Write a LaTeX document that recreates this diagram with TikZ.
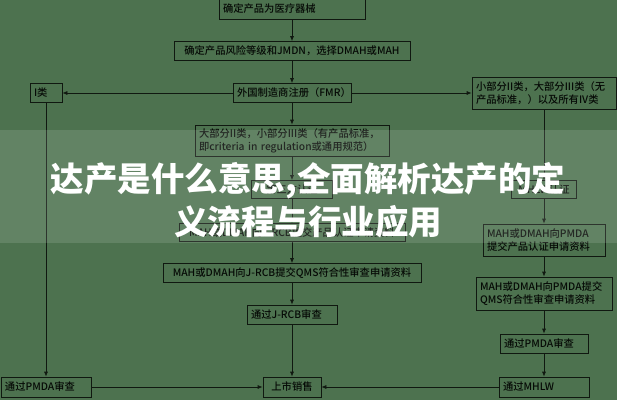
\documentclass[tikz,border=0pt]{standalone}
\usepackage{fontspec}
\newfontfamily\cjk{Noto Sans CJK SC}[UprightFont=* Medium]
\newfontfamily\cjkheavy{Noto Sans CJK SC}[UprightFont=* Black]
\usepackage{tikz}
\usetikzlibrary{arrows.meta}
\pgfdeclarelayer{background}
\pgfdeclarelayer{foreground}
\pgfsetlayers{background,main,foreground}
\definecolor{bgc}{RGB}{77,114,79}
\definecolor{edgec}{RGB}{16,24,16}
\definecolor{inkc}{RGB}{6,10,6}

\begin{document}
\begin{tikzpicture}[
						x=1pt, y=-1pt,
						>={Latex[length=5pt,width=4pt]},
						stepbox/.style={draw=edgec, line width=0.7pt, inner xsep=4pt, inner ysep=0pt, align=left, text=inkc, font=\cjk\fontsize{10.3}{12.8}\selectfont},
						link/.style={draw=edgec, line width=0.7pt},
						titletext/.style={text=white, align=center, inner sep=0pt, font=\cjkheavy\fontsize{33.5}{43}\selectfont},
						]
						\useasboundingbox (0,0) rectangle (617,400);
						\begin{pgfonlayer}{background}
						\fill[bgc] (0,0) rectangle (617,400);
						\end{pgfonlayer}
						%Nodes
						\node[stepbox, text width=138pt, minimum height=21pt]	(fda) 	at	(292,8.5) 	{确定产品为医疗器械};
						\node[stepbox, text width=228pt, minimum height=19pt, align=center]	(risk) 	at	(292,51) 	{确定产品风险等级和JMDN，选择DMAH或MAH};
						\node[stepbox, text width=110pt, minimum height=19pt, align=center]	(fmr) 	at	(292,93) 	{外国制造商注册（FMR）};
						\node[stepbox, text width=24pt, minimum height=19pt]	(cls1) 	at	(46,93) 	{I类};
						\node[stepbox, text width=136pt, minimum height=32pt]	(rgrp) 	at	(544,93) 	{小部分II类，大部分III类（无\\产品标准，）以及所有IV类};
						\node[stepbox, text width=186pt, minimum height=31pt]	(std) 	at	(292,140.5) 	{大部分II类，小部分III类（有产品标准，\\即criteria in regulation或通用规范）};
						\node[stepbox, text width=73pt, minimum height=18pt, align=center]	(cert) 	at	(292,189.5) 	{第三方认证};
						\node[stepbox, text width=57pt, minimum height=18pt, align=center]	(rhide) 	at	(544,189.5) 	{MHLW认证};
						\node[stepbox, text width=218pt, minimum height=18pt, align=center]	(prod) 	at	(292,232.5) 	{MAH或DMAH向J-RCB提交产品认证申请资料};
						\node[stepbox, text width=114pt, minimum height=32pt]	(rprod) 	at	(544,240) 	{MAH或DMAH向PMDA\\提交产品认证申请资料};
						\node[stepbox, text width=250pt, minimum height=19pt, align=center]	(qms) 	at	(292,273) 	{MAH或DMAH向J-RCB提交QMS符合性审查申请资料};
						\node[stepbox, text width=128pt, minimum height=33pt]	(rqms) 	at	(544,293.5) 	{MAH或DMAH向PMDA提交\\QMS符合性审查申请资料};
						\node[stepbox, text width=82pt, minimum height=19pt]	(jrcb) 	at	(292,314.5) 	{通过J-RCB审查};
						\node[stepbox, text width=80pt, minimum height=19pt]	(rpmda) 	at	(544,343.5) 	{通过PMDA审查};
						\node[stepbox, text width=50pt, minimum height=20pt, align=center]	(sale) 	at	(292,387) 	{上市销售};
						\node[stepbox, text width=82pt, minimum height=20pt]	(lpmda) 	at	(46,387) 	{通过PMDA审查};
						\node[stepbox, text width=82pt, minimum height=20pt]	(mhlw) 	at	(544,387) 	{通过MHLW};

						\begin{pgfonlayer}{background}
						%Lines
						\draw[link,->] (fda) -- (risk);
						\draw[link,->] (risk) -- (fmr);
						\draw[link,->] (fmr) -- (cls1);
						\draw[link,->] (fmr) -- (rgrp);
						\draw[link,->] (fmr) -- (std);
						\draw[link,->] (std) -- (cert);
						\draw[link,->] (cert) -- (prod);
						\draw[link,->] (prod) -- (qms);
						\draw[link,->] (qms) -- (jrcb);
						\draw[link,->] (jrcb) -- (sale);

						\draw[link,->] (cls1) -- (lpmda);
						\draw[link,->] (lpmda) -- (sale);

						\draw[link,->] (rgrp) -- (rhide);
						\draw[link,->] (rhide) -- (rprod);
						\draw[link,->] (rprod) -- (rqms);
						\draw[link,->] (rqms) -- (rpmda);
						\draw[link,->] (rpmda) -- (mhlw);
						\draw[link,->] (mhlw) -- (sale);
						\end{pgfonlayer}

						\begin{pgfonlayer}{foreground}
						\fill[white, opacity=0.12] (0,130) rectangle (617,243);
						\node[titletext]	(title) 	at	(308,200.5) 	{达产是什么意思,全面解析达产的定\\义流程与行业应用};
						\end{pgfonlayer}
					\end{tikzpicture}
\end{document}
